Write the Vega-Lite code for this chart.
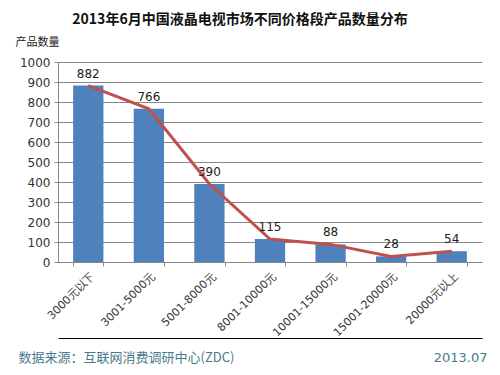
{
  "$schema": "https://vega.github.io/schema/vega-lite/v6.json",
  "width": 424,
  "height": 200,
  "autosize": {"type": "none"},
  "padding": {"left": 58, "top": 62, "right": 18, "bottom": 113},
  "background": "white",
  "title": {
    "text": "2013年6月中国液晶电视市场不同价格段产品数量分布",
    "fontSize": 14,
    "fontWeight": "bold",
    "font": "Noto Sans CJK SC",
    "color": "#111111",
    "anchor": "middle",
    "dx": -30,
    "offset": 9
  },
  "data": {
    "values": [
      {"price": "3000元以下", "count": 882},
      {"price": "3001-5000元", "count": 766},
      {"price": "5001-8000元", "count": 390},
      {"price": "8001-10000元", "count": 115},
      {"price": "10001-15000元", "count": 88},
      {"price": "15001-20000元", "count": 28},
      {"price": "20000元以上", "count": 54}
    ]
  },
  "encoding": {
    "y": {
      "field": "count", "type": "quantitative",
      "scale": {"domain": [0, 1000]},
      "axis": {
        "values": [0, 100, 200, 300, 400, 500, 600, 700, 800, 900, 1000],
        "format": "d",
        "labelFontSize": 12,
        "labelFont": "DejaVu Sans",
        "labelColor": "#333333",
        "domainColor": "#888888",
        "tickColor": "#888888",
        "tickSize": 4,
        "gridColor": "#888888",
        "gridWidth": 1,
        "labelPadding": 4,
        "title": "产品数量",
        "titleFont": "Noto Sans CJK SC",
        "titleFontSize": 11,
        "titleFontWeight": "normal",
        "titleColor": "#222222",
        "titleAngle": 0,
        "titleAnchor": null,
        "titleAlign": "left",
        "titleBaseline": "middle",
        "titleX": -43,
        "titleY": -20
      }
    }
  },
  "layer": [
    {
      "mark": {"type": "bar", "color": "#4F81BD"},
      "encoding": {
        "x": {
          "field": "price", "type": "nominal", "sort": null,
          "scale": {"paddingInner": 0.5, "paddingOuter": 0.25},
          "axis": {
            "labelAngle": -45,
            "labelFontSize": 11,
            "labelFont": "DejaVu Sans",
            "labelColor": "#333333",
            "domainColor": "#888888",
            "tickColor": "#888888",
            "tickSize": 4,
            "tickBand": "extent",
            "labelPadding": 4,
            "title": "数据来源：互联网消费调研中心(ZDC)",
            "titleFont": "Noto Sans CJK SC",
            "titleFontSize": 13,
            "titleFontWeight": "normal",
            "titleColor": "#4A7B8C",
            "titleAnchor": null,
            "titleAlign": "left",
            "titleBaseline": "middle",
            "titleX": -40,
            "titleY": 95
          }
        }
      }
    },
    {
      "mark": {"type": "line", "color": "#C0504D", "strokeWidth": 3},
      "encoding": {
        "x": {
          "field": "price", "type": "nominal", "sort": null,
          "axis": {
            "orient": "bottom",
            "offset": 76,
            "labels": false,
            "ticks": false,
            "domain": true,
            "domainColor": "#000000",
            "domainWidth": 1,
            "grid": false,
            "title": "2013.07",
            "titleFont": "DejaVu Sans",
            "titleFontSize": 13,
            "titleFontWeight": "normal",
            "titleColor": "#4A7B8C",
            "titleAnchor": null,
            "titleAlign": "right",
            "titleBaseline": "middle",
            "titleX": 429,
            "titleY": 19
          }
        }
      }
    },
    {
      "mark": {"type": "text", "baseline": "bottom", "dy": -5, "fontSize": 12, "font": "DejaVu Sans", "color": "#222222"},
      "encoding": {
        "x": {"field": "price", "type": "nominal", "sort": null, "axis": null},
        "text": {"field": "count", "type": "quantitative"}
      }
    }
  ],
  "resolve": {"axis": {"x": "independent"}},
  "config": {
    "view": {"stroke": null}
  }
}
